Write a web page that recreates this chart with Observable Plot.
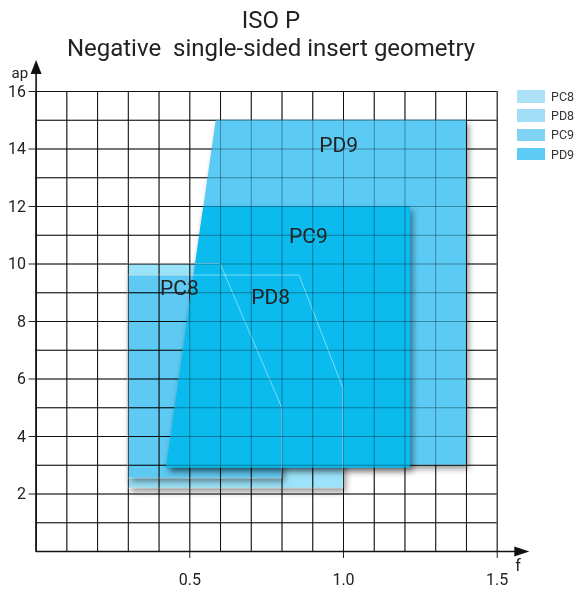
<!DOCTYPE html>
<html><head><meta charset="utf-8">
<script src="https://cdn.jsdelivr.net/npm/d3@7"></script>
<script src="https://cdn.jsdelivr.net/npm/@observablehq/plot@0.6"></script>
<style>
html,body{margin:0;padding:0;background:#fff;}
#wrap{position:relative;width:577px;height:589px;font-family:Roboto,sans-serif;color:#222;overflow:hidden;}
#chart{position:absolute;left:0;top:0;}
#title{position:absolute;left:0;top:6px;width:542px;text-align:center;font-size:24px;line-height:28px;color:#222;}
#legend{position:absolute;left:517px;top:86.7px;font-size:12.5px;color:#333;}
.row{display:flex;align-items:center;height:19.3px;}
.sw{width:28px;height:12.5px;margin-right:6px;}
</style></head>
<body>
<div id="wrap"><div id="chart"></div>
<div id="title">ISO P<br>Negative&nbsp; single-sided insert geometry</div>
<div id="legend"></div></div>
<script>
// ---- data ----
const series = ["PC8", "PD8", "PC9", "PD9"];
// each shape: depth-of-cut levels (ap) with min (lo) and max (hi) feed f at that level
const pc8Ap = [2.55, 5, 10],   pc8Lo = [0.3, 0.3, 0.3],   pc8Hi = [0.8, 0.8, 0.6];
const pd8Ap = [2.2, 5.65, 9.6], pd8Lo = [0.3, 0.3, 0.3],  pd8Hi = [1.0, 1.0, 0.857];
const pc9Ap = [2.9, 12],       pc9Lo = [0.424, 0.546],    pc9Hi = [1.218, 1.218];
const pd9Ap = [3, 15],         pd9Lo = [0.425, 0.586],    pd9Hi = [1.4, 1.4];
const labelText = ["PC8", "PD8", "PC9", "PD9"];
const labelF  = [0.466, 0.763, 0.886, 0.984];
const labelAp = [9.15, 8.83, 10.96, 14.12];
const xTicks = [0.5, 1.0, 1.5];
const yTicks = [2, 4, 6, 8, 10, 12, 14, 16];
const gridF  = [0, 0.1, 0.2, 0.3, 0.4, 0.5, 0.6, 0.7, 0.8, 0.9, 1.0, 1.1, 1.2, 1.3, 1.4, 1.5];
const gridAp = [0, 1, 2, 3, 4, 5, 6, 7, 8, 9, 10, 11, 12, 13, 14, 15, 16];
const axisEndF = 1.56, axisEndAp = 16.7;      // axis line extents
const arrowF = 1.58, arrowAp = 16.85;          // arrowhead centres
const apLabelAp = 16.63, fLabelF = 1.568, fLabelAp = -0.49;

// ---- styles ----
const legendFill = ["#ade1f8", "#a2ddf7", "#7fd4f5", "#5ccbf5"];
const fill8 = "#9be3f9", fillPD9 = "#5bcbf5", fillPC9 = "#0bbbee";

const rows = (ap, lo, hi) => ap.map((a, i) => ({ap: a, lo: lo[i], hi: hi[i]}));
const labels = labelText.map((t, i) => ({t, f: labelF[i], ap: labelAp[i]}));

const triUp = {draw(c) { c.moveTo(0, -7); c.lineTo(5.5, 7); c.lineTo(-5.5, 7); c.closePath(); }};
const triRight = {draw(c) { c.moveTo(7.5, 0); c.lineTo(-7.5, 5); c.lineTo(-7.5, -5); c.closePath(); }};

const shape = (d, fill) => Plot.areaX(d, {y: "ap", x1: "lo", x2: "hi", fill, curve: "linear"});
const outline = (d) => Plot.areaX(d, {y: "ap", x1: "lo", x2: "hi", fill: "none", stroke: "#ffffff", strokeOpacity: 0.45, strokeWidth: 1, curve: "linear"});

const chart = Plot.plot({
  width: 577, height: 589,
  marginLeft: 35.6, marginRight: 80.3, marginTop: 91, marginBottom: 38,
  style: {fontFamily: "Roboto, sans-serif", fontSize: "16px", color: "#222", background: "transparent", overflow: "visible"},
  x: {domain: [0, 1.5], ticks: xTicks, tickSize: 7, tickPadding: 15, tickFormat: ".1f", label: null},
  y: {domain: [0, 16], ticks: yTicks, tickSize: 7, tickPadding: 3, label: null},
  marks: [
    Plot.ruleX(gridF, {y1: 0, y2: 16, stroke: "#1a1a1a", strokeWidth: 1}),
    Plot.ruleY(gridAp, {x1: 0, x2: 1.5, stroke: "#1a1a1a", strokeWidth: 1}),
    shape(rows(pc8Ap, pc8Lo, pc8Hi), fill8),
    shape(rows(pd8Ap, pd8Lo, pd8Hi), fill8),
    shape(rows(pd9Ap, pd9Lo, pd9Hi), fillPD9),
    shape(rows(pc9Ap, pc9Lo, pc9Hi), fillPC9),
    outline(rows(pc8Ap, pc8Lo, pc8Hi)),
    outline(rows(pd8Ap, pd8Lo, pd8Hi)),
    Plot.ruleX(gridF, {y1: 0, y2: 16, stroke: "#000", strokeOpacity: 0.34, strokeWidth: 1}),
    Plot.ruleY(gridAp, {x1: 0, x2: 1.5, stroke: "#000", strokeOpacity: 0.34, strokeWidth: 1}),
    Plot.ruleX([0], {y1: 0, y2: axisEndAp, stroke: "#111", strokeWidth: 1.6}),
    Plot.ruleY([0], {x1: 0, x2: axisEndF, stroke: "#111", strokeWidth: 1.6}),
    Plot.dot([0], {x: 0, y: arrowAp, symbol: triUp, fill: "#111", stroke: "none"}),
    Plot.dot([0], {x: arrowF, y: 0, symbol: triRight, fill: "#111", stroke: "none"}),
    Plot.text(["ap"], {x: 0, y: apLabelAp, dx: -8, textAnchor: "end", fontSize: 15, fill: "#222"}),
    Plot.text(["f"], {x: fLabelF, y: fLabelAp, fontSize: 16, fill: "#222"}),
    Plot.text(labels, {x: "f", y: "ap", text: "t", fontSize: 21, fill: "#222"})
  ]
});
const areas = chart.querySelectorAll('g[aria-label="area"]');
areas.forEach((g, i) => {
  if (i < 4) g.style.filter = "drop-shadow(3px 4px 3px rgba(0,0,0,0.42))";
  if (i < 2) g.style.mixBlendMode = "multiply";
});
document.getElementById("chart").appendChild(chart);

const leg = document.getElementById("legend");
series.forEach((s, i) => {
  const r = document.createElement("div"); r.className = "row";
  const sw = document.createElement("div"); sw.className = "sw"; sw.style.background = legendFill[i];
  const t = document.createElement("span"); t.textContent = s;
  r.appendChild(sw); r.appendChild(t); leg.appendChild(r);
});
</script>
</body></html>
